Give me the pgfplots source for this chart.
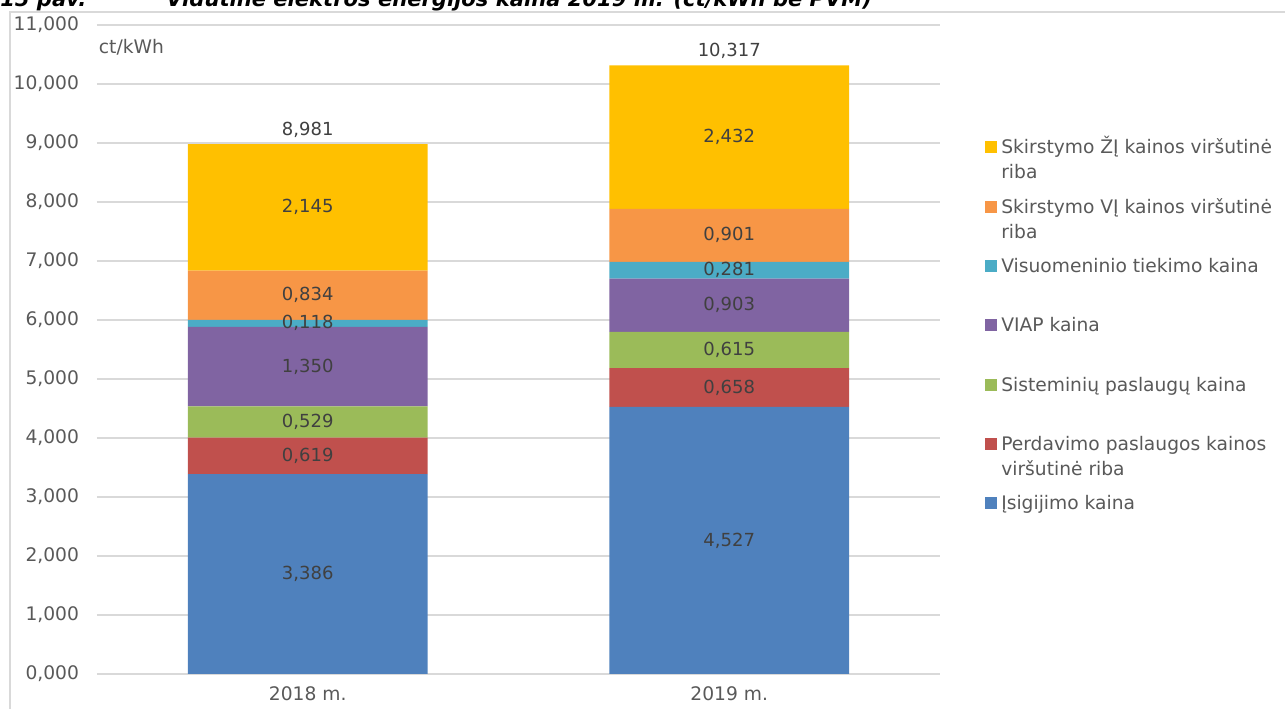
\documentclass[border=0pt]{standalone}
\usepackage{fontspec}
\setmainfont{DejaVu Sans}
\usepackage{pgfplots}
\pgfplotsset{compat=1.18}

\definecolor{c1}{HTML}{4F81BD}
\definecolor{c2}{HTML}{C0504D}
\definecolor{c3}{HTML}{9BBB59}
\definecolor{c4}{HTML}{8064A2}
\definecolor{c5}{HTML}{4BACC6}
\definecolor{c6}{HTML}{F79646}
\definecolor{c7}{HTML}{FFC000}
\definecolor{gridc}{HTML}{D9D9D9}
\definecolor{tickc}{HTML}{595959}
\definecolor{labc}{HTML}{404040}

\newcommand{\fs}{\fontsize{14}{18.75}\selectfont}
\newcommand{\lbl}[1]{\pgfmathprintnumber[fixed,fixed zerofill,precision=3,use comma,assume math mode=true]{#1}}

\begin{document}
\begin{tikzpicture}[font=\fs]
% page = 1285 x 709 px, 1px = 0.75pt
\path[use as bounding box] (0,0) rectangle (963.75pt,531.75pt);
\draw[gridc, line width=1pt] (7.5pt,-20pt) rectangle (1000pt,522.75pt);

% title, cut off at the top like the reference
\node[anchor=base west, inner sep=0pt, font=\fontsize{15.8}{19}\selectfont\bfseries\itshape] at (0pt,526.5pt) {15 pav.};
\node[anchor=base west, inner sep=0pt, font=\fontsize{15.8}{19}\selectfont\bfseries\itshape] at (124.5pt,526.5pt)
  {Vidutinė elektros energijos kaina 2019 m. (ct/kWh be PVM)};

% ── stacked bars ──
\begin{axis}[
  at={(72.75pt,26.25pt)}, anchor=south west,
  scale only axis, width=632.25pt, height=486.75pt,
  ybar stacked, bar width=0.569,
  xmin=-0.5, xmax=1.5, ymin=0, ymax=11,
  xtick={0,1}, xticklabels={2018 m.,2019 m.},
  ytick={0,1,...,11},
  scaled y ticks=false,
  ymajorgrids,
  grid style={draw=gridc, line width=1.2pt},
  axis line style={draw=none},
  major tick length=0pt,
  tick label style={font=\fs, text=tickc},
  yticklabel style={xshift=-10pt, /pgf/number format/.cd, fixed, fixed zerofill, precision=3, use comma, assume math mode=true},
  xticklabel style={yshift=-6pt},
  legend style={at={(1.0534,0.8243)}, anchor=north west, draw=none, fill=none,
    inner sep=0pt, row sep=32.5pt, column sep=3pt, font=\fs, text=tickc,
    nodes={inner sep=0pt, text depth=1pt}},
  legend cell align=left,
  reverse legend,
  legend image code/.code={\fill[#1, draw=none] (0pt,-4.5pt) rectangle (9pt,4.5pt);},
]
\addplot[fill=c1, draw=none] coordinates {(0,3.386) (1,4.527)};
\addlegendentry{\raisebox{0pt}[11pt][1pt]{\parbox[t]{250pt}{Įsigijimo kaina}}}
\addplot[fill=c2, draw=none] coordinates {(0,0.619) (1,0.658)};
\addlegendentry{\raisebox{0pt}[11pt][1pt]{\parbox[t]{250pt}{Perdavimo paslaugos kainos\\viršutinė riba}}}
\addplot[fill=c3, draw=none] coordinates {(0,0.529) (1,0.615)};
\addlegendentry{\raisebox{0pt}[11pt][1pt]{\parbox[t]{250pt}{Sisteminių paslaugų kaina}}}
\addplot[fill=c4, draw=none] coordinates {(0,1.350) (1,0.903)};
\addlegendentry{\raisebox{0pt}[11pt][1pt]{\parbox[t]{250pt}{VIAP kaina}}}
\addplot[fill=c5, draw=none] coordinates {(0,0.118) (1,0.281)};
\addlegendentry{\raisebox{0pt}[11pt][1pt]{\parbox[t]{250pt}{Visuomeninio tiekimo kaina}}}
\addplot[fill=c6, draw=none] coordinates {(0,0.834) (1,0.901)};
\addlegendentry{\raisebox{0pt}[11pt][1pt]{\parbox[t]{250pt}{Skirstymo VĮ kainos viršutinė\\riba}}}
\addplot[fill=c7, draw=none] coordinates {(0,2.145) (1,2.432)};
\addlegendentry{\raisebox{0pt}[11pt][1pt]{\parbox[t]{250pt}{Skirstymo ŽĮ kainos viršutinė\\riba}}}

\node[anchor=west, inner sep=0pt, text=tickc] at (rel axis cs:0.002,0.966) {ct/kWh};
\end{axis}

% ── value labels (segment mid-points, meta = segment value) ──
\begin{axis}[
  at={(72.75pt,26.25pt)}, anchor=south west,
  scale only axis, width=632.25pt, height=486.75pt,
  xmin=-0.5, xmax=1.5, ymin=0, ymax=11,
  hide axis, clip=false,
  point meta=explicit,
  nodes near coords={\lbl{\pgfplotspointmeta}},
]
\addplot[only marks, mark=none,
  every node near coord/.append style={anchor=center, font=\fontsize{13.5}{16}\selectfont, text=labc}]
  coordinates {
    (0,1.693) [3.386] (0,3.696) [0.619] (0,4.270) [0.529] (0,5.209) [1.350]
    (0,5.943) [0.118] (0,6.419) [0.834] (0,7.909) [2.145]
    (1,2.264) [4.527] (1,4.856) [0.658] (1,5.493) [0.615] (1,6.252) [0.903]
    (1,6.844) [0.281] (1,7.435) [0.901] (1,9.101) [2.432]
  };
\addplot[only marks, mark=none,
  every node near coord/.append style={anchor=south, yshift=1.5pt, font=\fontsize{13.5}{16}\selectfont, text=labc}]
  coordinates {(0,8.981) [8.981] (1,10.317) [10.317]};
\end{axis}
\end{tikzpicture}
\end{document}
